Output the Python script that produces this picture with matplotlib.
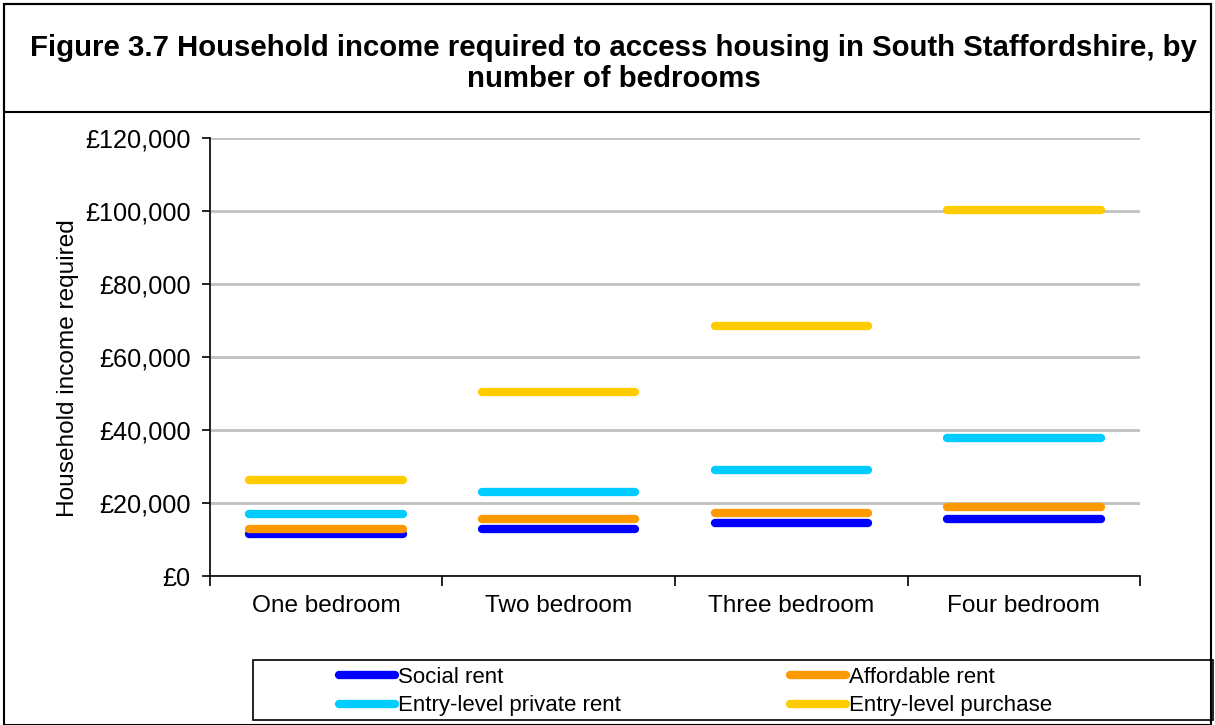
import matplotlib.pyplot as plt
from matplotlib.patches import Rectangle
from matplotlib.ticker import FuncFormatter

plt.rcParams['font.family'] = ['Liberation Sans', 'DejaVu Sans']

# Data
categories = ['One bedroom', 'Two bedroom', 'Three bedroom', 'Four bedroom']
social_rent = [11400, 12900, 14400, 15600]
affordable_rent = [13000, 15600, 17300, 18800]
private_rent = [17100, 23100, 29100, 37700]
purchase = [26400, 50300, 68400, 100300]

series = [
    ('Social rent', social_rent, '#0000FF'),
    ('Affordable rent', affordable_rent, '#FF9900'),
    ('Entry-level private rent', private_rent, '#00CCFF'),
    ('Entry-level purchase', purchase, '#FFCC00'),
]

fig = plt.figure(figsize=(12.15, 7.25), dpi=100)
ax = fig.add_axes([0.1728, 0.2055, 0.7655, 0.6042])

# each value drawn as a short horizontal bar across its category
half = 0.33
handles = {}
for name, vals, col in series:
    for i, v in enumerate(vals):
        ln, = ax.plot([i - half, i + half], [v, v], color=col, linewidth=6,
                      solid_capstyle='round')
    handles[name] = ln

ax.set_xlim(-0.5, len(categories) - 0.5)
ax.set_ylim(0, 120000)
ax.set_yticks(range(0, 120001, 20000))
ax.yaxis.set_major_formatter(FuncFormatter(lambda v, p: '£{:,.0f}'.format(v)))
ax.set_xticks(range(len(categories)))
ax.set_xticklabels(categories)
ax.set_xticks([i - 0.5 for i in range(len(categories) + 1)], minor=True)
ax.tick_params(axis='x', which='major', length=0, labelsize=17.6, pad=14)
ax.tick_params(axis='x', which='minor', length=7, width=1.2, direction='out')
ax.tick_params(axis='y', length=6, width=1.2, labelsize=18.2, pad=8)

ax.grid(axis='y', color='#C0C0C0', linewidth=2)
ax.set_axisbelow(True)
for s in ['top', 'right']:
    ax.spines[s].set_visible(False)
for s in ['left', 'bottom']:
    ax.spines[s].set_linewidth(1.2)

ax.set_ylabel('Household income required', fontsize=17.6)
ax.yaxis.set_label_coords(-0.141, 0.475)

# title box and outer frame
fig.patches.append(Rectangle((0.003, 0.0), 0.994, 0.995, transform=fig.transFigure,
                             fill=False, edgecolor='black', linewidth=1.5))
fig.patches.append(Rectangle((0.003, 0.845), 0.994, 0.15, transform=fig.transFigure,
                             fill=False, edgecolor='black', linewidth=1.5))
fig.text(0.505, 0.912, 'Figure 3.7 Household income required to access housing in South Staffordshire, by\nnumber of bedrooms',
         ha='center', va='center', fontsize=21.2, fontweight='bold', linespacing=1.15)

# legend box, then legend (row-major order like the original)
fig.patches.append(Rectangle((253 / 1215, 0.007), 960 / 1215, 0.083, transform=fig.transFigure,
                             fill=False, edgecolor='black', linewidth=1.2))
order = ['Social rent', 'Entry-level private rent', 'Affordable rent', 'Entry-level purchase']
leg = fig.legend([handles[k] for k in order], order, loc='upper left',
                 bbox_to_anchor=(339 / 1215, 0.080), ncol=2, fontsize=16,
                 frameon=False, handlelength=2.5, handletextpad=0.15,
                 borderpad=0, labelspacing=0.33, borderaxespad=0,
                 columnspacing=7.63)
for h in leg.legend_handles:
    h.set_linewidth(6)

fig.savefig('out.png', dpi=100)
